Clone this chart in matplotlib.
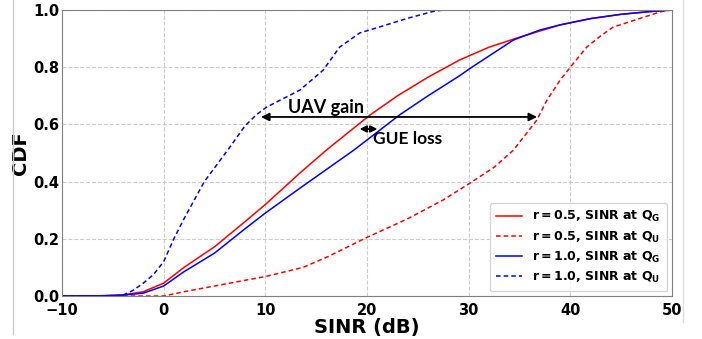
import numpy as np
import matplotlib.pyplot as plt
from matplotlib.lines import Line2D

plt.rcParams['mathtext.default'] = 'bf'

# r = 0.5, SINR at Q_G
x_r05_g = [-10, -6, -4, -2, 0, 2, 5, 8, 10, 13.4, 16, 20.3, 23, 26, 29.1, 32, 35, 39, 42, 45, 48, 50]
y_r05_g = [0, 0.001, 0.004, 0.015, 0.045, 0.1, 0.172, 0.26, 0.32, 0.43, 0.51, 0.633, 0.7, 0.765, 0.825, 0.87, 0.905, 0.948, 0.97, 0.985, 0.995, 1.0]
# r = 0.5, SINR at Q_U
x_r05_u = [-10, 0, 2, 5, 8, 10, 11.4, 13.7, 16, 20, 24, 27.5, 30.1, 32.5, 34.4, 36.7, 37.7, 39, 40, 41.6, 43, 44.2, 46.8, 49, 50]
y_r05_u = [0, 0, 0.015, 0.035, 0.055, 0.068, 0.08, 0.1, 0.135, 0.205, 0.27, 0.336, 0.394, 0.45, 0.51, 0.615, 0.685, 0.755, 0.8, 0.87, 0.91, 0.94, 0.97, 0.995, 1.0]
# r = 1.0, SINR at Q_G
x_r10_g = [-10, -6, -4, -2, 0, 2, 5, 8, 10, 13.4, 18.7, 23.2, 26, 29.1, 30.1, 34.4, 37, 39, 42, 45, 48, 50]
y_r10_g = [0, 0.001, 0.003, 0.01, 0.035, 0.085, 0.15, 0.235, 0.29, 0.377, 0.51, 0.633, 0.7, 0.77, 0.795, 0.895, 0.93, 0.948, 0.97, 0.985, 0.995, 1.0]
# r = 1.0, SINR at Q_U
x_r10_u = [-10, -5, -4, -3, -2, -1, 0, 1, 2, 4, 6.5, 8, 9.1, 10.1, 13.4, 15.7, 17.3, 19.3, 20.9, 23.9, 26.5, 27.5, 50]
y_r10_u = [0, 0, 0.003, 0.02, 0.045, 0.075, 0.12, 0.2, 0.27, 0.40, 0.52, 0.595, 0.633, 0.66, 0.72, 0.79, 0.87, 0.92, 0.937, 0.97, 0.995, 1.0, 1.0]

fig = plt.figure(figsize=(7.02, 3.39), dpi=100)
ax = fig.add_axes([0.0883, 0.1268, 0.869, 0.8437])

ax.plot(x_r05_g, y_r05_g, color='red', lw=1.1, label='$r=0.5$, SINR at $Q_G$')
ax.plot(x_r05_u, y_r05_u, color='red', lw=1.1, ls=(0, (3, 2)), label='$r=0.5$, SINR at $Q_U$')
ax.plot(x_r10_g, y_r10_g, color='blue', lw=1.1, label='$r=1.0$, SINR at $Q_G$')
ax.plot(x_r10_u, y_r10_u, color='blue', lw=1.1, ls=(0, (3, 2)), label='$r=1.0$, SINR at $Q_U$')

ax.set_xlim(-10, 50)
ax.set_ylim(0, 1)
ax.set_xticks([-10, 0, 10, 20, 30, 40, 50])
ax.set_yticks([0, 0.2, 0.4, 0.6, 0.8, 1.0])
ax.grid(True, ls='--', color='#cccccc', lw=0.8)
for sp in ax.spines.values():
    sp.set_color('#808080')
ax.tick_params(length=0, labelsize=10.5)
ax.tick_params(axis='x', pad=5)
ax.tick_params(axis='y', pad=2)
for lab in ax.get_xticklabels() + ax.get_yticklabels():
    lab.set_fontweight('bold')
ax.set_xlabel('SINR (dB)', fontsize=14, fontweight='bold', labelpad=0)
ax.set_ylabel('CDF', fontsize=14, fontweight='bold', labelpad=2)

ax.annotate('', xy=(9.3, 0.626), xytext=(37.0, 0.626),
            arrowprops=dict(arrowstyle='<|-|>', color='black', lw=1.3, mutation_scale=12))
ax.text(16.0, 0.66, 'UAV gain', fontsize=13, fontweight='bold', family='Lato',
        ha='center', va='center')
ax.annotate('', xy=(19.0, 0.584), xytext=(21.3, 0.584),
            arrowprops=dict(arrowstyle='<|-|>', color='black', lw=1.3, mutation_scale=10))
ax.text(24.0, 0.548, 'GUE loss', fontsize=12.5, fontweight='bold', family='Lato',
        ha='center', va='center')

leg = ax.legend(loc='lower right', prop={'weight': 'bold', 'size': 9},
                handlelength=2.1, labelspacing=0.4, borderpad=0.5, borderaxespad=0.4)

fig.add_artist(Line2D([0.018, 0.018], [0.015, 1.0], color='#cccccc', lw=1))
fig.add_artist(Line2D([0.973, 0.973], [0.05, 1.0], color='#dddddd', lw=1))

fig.savefig('out.png', dpi=100)
